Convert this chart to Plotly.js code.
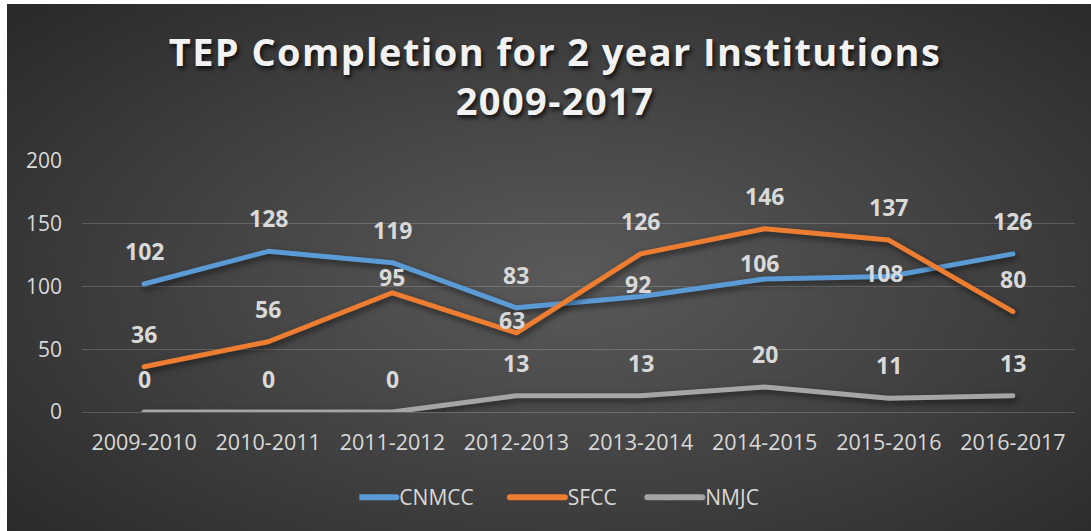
<!DOCTYPE html>
<html>
<head>
<meta charset="utf-8">
<script src="https://cdn.plot.ly/plotly-3.0.1.min.js"></script>
<style>
  html, body { margin: 0; padding: 0; background: #ffffff; width: 1091px; height: 531px; overflow: hidden; }
  #bg { position: absolute; left: 7px; top: 4px; width: 1084px; height: 527px;
        background: radial-gradient(ellipse 75% 80% at 52% 52%, #5a5a5a 0%, #434343 45%, #262626 100%); }
  #chart { position: absolute; left: 0; top: 0; width: 1091px; height: 531px; }
  .scatterlayer .js-line { stroke-linecap: round; stroke-linejoin: round; }
  .scatterlayer .trace { filter: drop-shadow(2px 3px 3px rgba(0,0,0,0.55)); }
  .legendlines path { stroke-linecap: round; }
  .gtitle { letter-spacing: 1.4px; }
</style>
</head>
<body>
<div id="bg"></div>
<div id="chart"></div>
<script>
const categories = ["2009-2010", "2010-2011", "2011-2012", "2012-2013", "2013-2014", "2014-2015", "2015-2016", "2016-2017"];
const cnmcc = [102, 128, 119, 83, 92, 106, 108, 126];
const sfcc  = [36, 56, 95, 63, 126, 146, 137, 80];
const nmjc  = [0, 0, 0, 13, 13, 20, 11, 13];
const seriesNames = ["CNMCC", "SFCC", "NMJC"];
const seriesColors = ["#5B9BD5", "#ED7D31", "#A5A5A5"];
const yTicks = [0, 50, 100, 150, 200];

// label placement offsets (pixels above each point), as in the original chart
const labelLift = [
  [33, 33, 33, 33, 13, 16, 3, 33],
  [33, 33, 16, 13, 33, 33, 33, 33],
  [33, 33, 33, 33, 33, 33, 33, 33]
];
const labelNudgeX = [
  [0, 0, 0, 0, -3, -5, -5, 0],
  [0, 0, 0, -4, 0, 0, 0, 0],
  [0, 0, 0, 0, 0, 0, 0, 0]
];

const allSeries = [cnmcc, sfcc, nmjc];
const labelColor = "#D9D9D9";
const legendPad = ["\u00a0".repeat(9), "\u00a0".repeat(8), ""];

const traces = allSeries.map((vals, i) => ({
  type: "scatter",
  mode: "lines",
  x: categories,
  y: vals,
  name: seriesNames[i] + legendPad[i],
  line: { color: seriesColors[i], width: 5 },
  hovertemplate: "%{x}: %{y}<extra>" + seriesNames[i] + "</extra>"
}));

const annotations = [];
allSeries.forEach((vals, i) => {
  vals.forEach((v, j) => {
    annotations.push({
      x: categories[j], y: v, xref: "x", yref: "y",
      text: String(v), showarrow: false,
      yshift: labelLift[i][j], xshift: labelNudgeX[i][j],
      font: { family: "Open Sans", size: 23, color: labelColor, weight: 700 }
    });
  });
});

const layout = {
  width: 1091, height: 531,
  paper_bgcolor: "rgba(0,0,0,0)",
  plot_bgcolor: "rgba(0,0,0,0)",
  margin: { l: 82, r: 16, t: 161, b: 119 },
  title: {
    text: "TEP Completion for 2 year Institutions<br>2009-2017",
    font: { family: "Open Sans", size: 38, color: "#F2F2F2", weight: 700, shadow: "2px 3px 4px rgba(0,0,0,0.75)" },
    x: 0.5087, xanchor: "center", xref: "container",
    y: 0.876, yanchor: "top", yref: "container"
  },
  xaxis: {
    type: "category",
    range: [-0.5, 7.5],
    showgrid: false, zeroline: false, showline: false,
    ticks: "",
    tickfont: { family: "Open Sans", size: 21.5, color: labelColor },
    ticklabelstandoff: 15,
    fixedrange: true
  },
  yaxis: {
    range: [0, 200],
    tickvals: yTicks,
    ticktext: yTicks.map(String),
    showgrid: true, gridcolor: "rgba(217,217,217,0.22)", gridwidth: 1,
    zeroline: true, zerolinecolor: "rgba(217,217,217,0.22)", zerolinewidth: 1,
    showline: false, ticks: "",
    tickfont: { family: "Open Sans", size: 21, color: labelColor },
    ticklabelstandoff: 19,
    fixedrange: true
  },
  showlegend: true,
  legend: {
    orientation: "h",
    x: 0.515, xanchor: "center", xref: "container",
    y: 0.063, yanchor: "middle", yref: "container",
    font: { family: "Open Sans", size: 21, color: labelColor },
    bgcolor: "rgba(0,0,0,0)",
    itemwidth: 30
  },
  annotations: annotations
};

Plotly.newPlot("chart", traces, layout, { displayModeBar: false }).then(() => {
  document.querySelectorAll(".legendlines path").forEach(p => {
    p.setAttribute("d", "M-18,0h55");
    p.style.strokeWidth = "6px";
  });
});
</script>
</body>
</html>
